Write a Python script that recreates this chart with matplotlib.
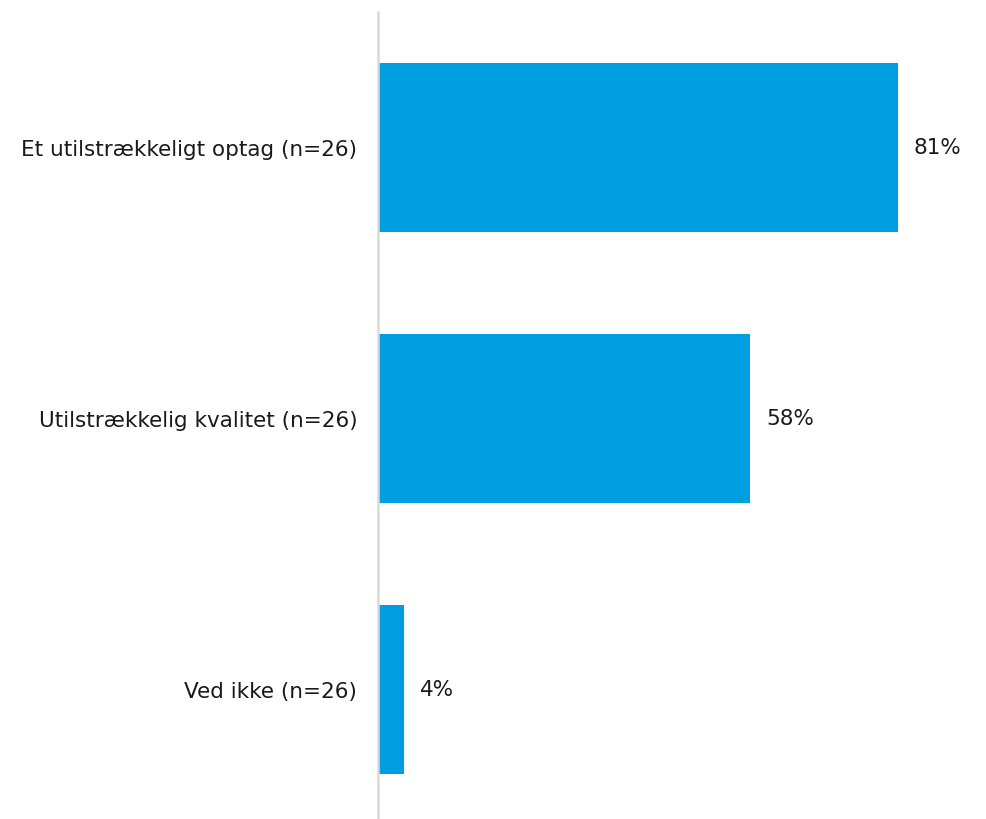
import matplotlib
matplotlib.use("Agg")
import matplotlib.pyplot as plt

categories = ["Et utilstrækkeligt optag (n=26)",
              "Utilstrækkelig kvalitet (n=26)",
              "Ved ikke (n=26)"]
values = [81, 58, 4]

W, H, DPI = 987, 819, 100
fig = plt.figure(figsize=(W / DPI, H / DPI), dpi=DPI)
fig.patch.set_facecolor("white")

left_px, top_px, bottom_px = 378, 12, 825
px_per_pct = 6.42
ax = fig.add_axes([left_px / W, (H - bottom_px) / H,
                   100 * px_per_pct / W, (bottom_px - top_px) / H])
ax.set_xlim(0, 100)
ax.set_ylim(len(categories) - 0.5, -0.5)

ypos = list(range(len(categories)))
ax.barh(ypos, values, height=0.624, color="#009de0", zorder=2)

for y, v in zip(ypos, values):
    ax.annotate(f"{v}%", xy=(v, y), xytext=(11.5, 0), textcoords="offset points",
                va="center", ha="left", fontsize=15.5, color="#1a1a1a")

ax.set_yticks(ypos)
ax.set_yticklabels(categories, fontsize=15.5, color="#1a1a1a")
ax.tick_params(axis="y", length=0, pad=15)
ax.set_xticks([])

for s in ["top", "right", "bottom"]:
    ax.spines[s].set_visible(False)
ax.spines["left"].set_color("#d9d9d9")
ax.spines["left"].set_linewidth(1.8)
ax.spines["left"].set_zorder(3)

fig.savefig("out.png", dpi=DPI, facecolor="white")
